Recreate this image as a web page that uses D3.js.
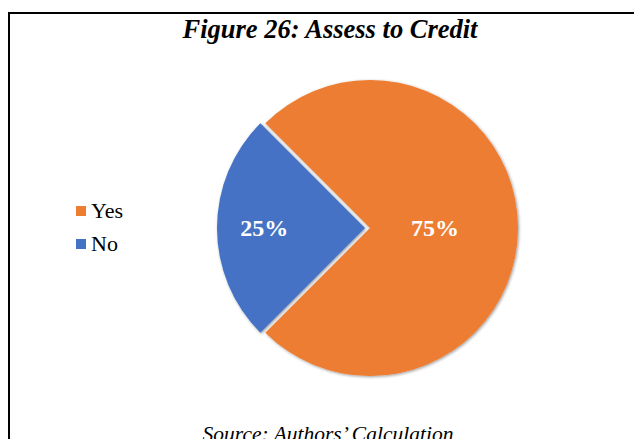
<!DOCTYPE html>
<html lang="en">
<head>
<meta charset="UTF-8">
<title>Assess to Credit</title>
<script src="https://d3js.org/d3.v7.min.js"></script>
<style>
  * { margin: 0; padding: 0; }
  body { background: #fff; width: 634px; height: 439px; overflow: hidden; }
  svg text { font-family: 'Liberation Serif', 'Times New Roman', serif; }
</style>
</head>
<body>
<div id="chart"></div>
<script>
  const categories = ["Yes", "No"];
  const shares = [75, 25];
  const colors = ["#ED7D31", "#4472C4"];

  const W = 634, H = 439;
  const svg = d3.select("#chart").append("svg")
      .attr("width", W).attr("height", H);

  const defs = svg.append("defs");
  const f = defs.append("filter").attr("id", "shadow")
      .attr("x", "-20%").attr("y", "-20%").attr("width", "140%").attr("height", "140%");
  f.append("feDropShadow").attr("dx", 1).attr("dy", 1)
      .attr("stdDeviation", 1.6).attr("flood-color", "#000").attr("flood-opacity", 0.4);

  // frame (runs off the right and bottom edges)
  svg.append("rect")
      .attr("x", 9).attr("y", 13).attr("width", 640).attr("height", 450)
      .attr("fill", "none").attr("stroke", "#000").attr("stroke-width", 2);

  svg.append("text")
      .attr("x", 330).attr("y", 38)
      .attr("text-anchor", "middle")
      .attr("font-size", 26.5).attr("font-weight", "bold").attr("font-style", "italic")
      .text("Figure 26: Assess to Credit");

  const data = categories.map((c, i) => ({ label: c, value: shares[i], color: colors[i] }));

  const pie = d3.pie().value(d => d.value).sort(null)
      .startAngle(-Math.PI / 4).endAngle(7 * Math.PI / 4);
  const r = 148;
  const arc = d3.arc().innerRadius(0).outerRadius(r);
  const cx = 370, cy = 228;
  const explode = [0, 5];
  const labelPos = [0.44, 0.68];

  const g = svg.append("g").attr("transform", `translate(${cx},${cy})`);
  const arcs = pie(data);

  const slices = g.selectAll("g.slice").data(arcs).join("g")
      .attr("class", "slice")
      .attr("transform", (d, i) => {
        const a = (d.startAngle + d.endAngle) / 2;
        return `translate(${Math.sin(a) * explode[i]},${-Math.cos(a) * explode[i]})`;
      });

  slices.append("path")
      .attr("d", arc)
      .attr("fill", d => d.data.color)
      .attr("filter", "url(#shadow)");

  slices.append("text")
      .attr("transform", (d, i) => {
        const a = (d.startAngle + d.endAngle) / 2;
        const lr = r * labelPos[i];
        return `translate(${Math.sin(a) * lr},${-Math.cos(a) * lr})`;
      })
      .attr("text-anchor", "middle")
      .attr("dy", "0.35em")
      .attr("fill", "#fff")
      .attr("font-size", 24).attr("font-weight", "bold")
      .text(d => d.data.value + "%");

  // legend
  const legend = svg.append("g").attr("transform", "translate(76,206)");
  data.forEach((d, i) => {
    const row = legend.append("g").attr("transform", `translate(0,${i * 33})`);
    row.append("rect").attr("width", 10).attr("height", 10).attr("fill", d.color);
    row.append("text").attr("x", 15).attr("y", 12)
        .attr("font-size", 22).text(d.label);
  });

  svg.append("text")
      .attr("x", 328).attr("y", 441)
      .attr("text-anchor", "middle")
      .attr("font-size", 21.5).attr("font-style", "italic")
      .text("Source: Authors\u2019 Calculation");
</script>
</body>
</html>
